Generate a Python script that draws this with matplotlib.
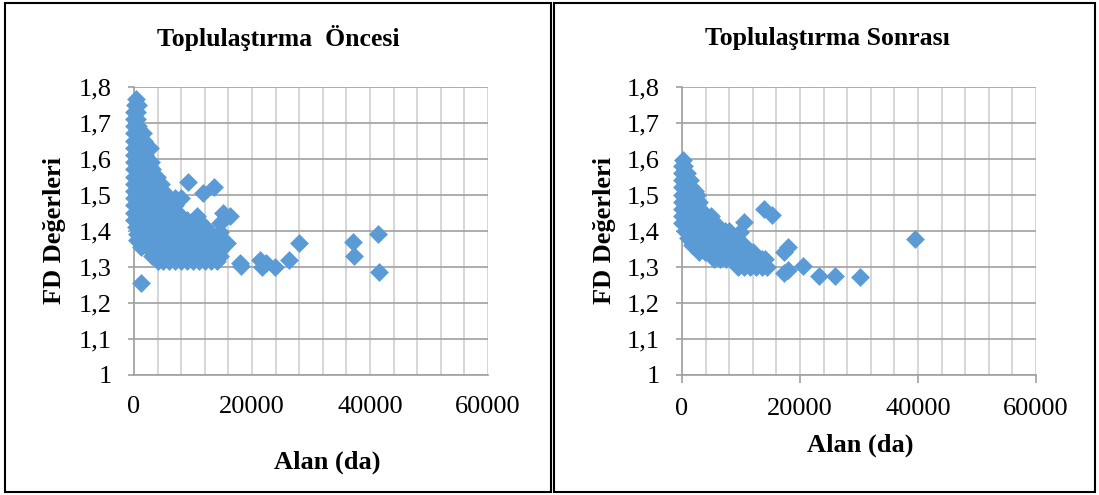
import numpy as np
import matplotlib
matplotlib.use('Agg')
import matplotlib.pyplot as plt
from matplotlib.patches import Rectangle
from matplotlib.ticker import MultipleLocator, FixedLocator

plt.rcParams['font.family'] = ['Liberation Serif', 'DejaVu Serif']

# Toplulaştırma öncesi: alan (da) and FD values
alan_once = [
    300, 100, 600, 0, 500, 0, 550, 0, 600,
    0, 800, 1600, 0, 900, 1700,
    0, 1000, 2000, 2700, 0, 900, 1800,
    0, 1000, 2000, 2900, 0, 1000, 2000, 3000,
    0, 1000, 2000, 3000, 3900,
    0, 1000, 2000, 3000, 4000, 4600,
    0, 1000, 2000, 3000, 4000, 5000,
    9100, 13600, 11750,
    0, 1000, 2000, 3000, 4000, 5000, 6000, 7000, 8000,
    0, 1000, 2000, 3000, 4000, 5000, 6000, 7000,
    0, 1000, 2000, 3000, 4000, 5000, 6000, 7000, 7500,
    10700, 11200, 15100, 16200, 14600,
    0, 1000, 2000, 3000, 4000, 5000, 6000, 7000, 8000, 9000,
    300, 1000, 2000, 3000, 4000, 5000, 6000, 7000, 8000, 9000, 10000, 11000, 12000,
    500, 1500, 2500, 3500, 4500, 5500, 6500, 7500, 8500, 9500, 10500, 11500, 12500, 13000, 14500,
    700, 1700, 2700, 3700, 4700, 5700, 6700, 7700, 8700, 9700, 10700, 11700, 12700, 13700, 15000, 15800,
    1200, 500,
    2500, 3500, 4500, 5500, 6500, 7500, 8500, 9500, 10500, 11500, 12500, 13500, 14600,
    3000, 4000, 5000, 6000, 7000, 8000, 9000, 10000, 11000, 12000, 13000, 14500,
    4000, 5000, 6000, 7000, 8000, 9000, 10000, 11000, 12000, 13000, 14000,
    1150, 17900, 18100, 21300, 22400, 21700, 23900, 26200, 28050,
    37200, 37350, 41300, 41600,
]
fd_once = [
    1.765, 1.75, 1.75, 1.73, 1.73, 1.71, 1.71, 1.69, 1.69,
    1.67, 1.67, 1.67, 1.65, 1.65, 1.65,
    1.63, 1.63, 1.63, 1.63, 1.61, 1.61, 1.61,
    1.59, 1.59, 1.59, 1.59, 1.57, 1.57, 1.57, 1.57,
    1.55, 1.55, 1.55, 1.55, 1.55,
    1.53, 1.53, 1.53, 1.53, 1.53, 1.53,
    1.51, 1.51, 1.51, 1.51, 1.51, 1.51,
    1.536, 1.522, 1.504,
    1.49, 1.49, 1.49, 1.49, 1.49, 1.49, 1.49, 1.49, 1.49,
    1.47, 1.47, 1.47, 1.47, 1.47, 1.47, 1.47, 1.47,
    1.45, 1.45, 1.45, 1.45, 1.45, 1.45, 1.45, 1.45, 1.45,
    1.44, 1.425, 1.448, 1.44, 1.42,
    1.43, 1.43, 1.43, 1.43, 1.43, 1.43, 1.43, 1.43, 1.43, 1.43,
    1.41, 1.41, 1.41, 1.41, 1.41, 1.41, 1.41, 1.41, 1.41, 1.41, 1.41, 1.41, 1.41,
    1.39, 1.39, 1.39, 1.39, 1.39, 1.39, 1.39, 1.39, 1.39, 1.39, 1.39, 1.39, 1.39, 1.39, 1.395,
    1.37, 1.37, 1.37, 1.37, 1.37, 1.37, 1.37, 1.37, 1.37, 1.37, 1.37, 1.37, 1.37, 1.37, 1.37, 1.365,
    1.355, 1.375,
    1.35, 1.35, 1.35, 1.35, 1.35, 1.35, 1.35, 1.35, 1.35, 1.35, 1.35, 1.35, 1.346,
    1.33, 1.33, 1.33, 1.33, 1.33, 1.33, 1.33, 1.33, 1.33, 1.33, 1.33, 1.33,
    1.315, 1.315, 1.315, 1.315, 1.315, 1.315, 1.315, 1.315, 1.315, 1.315, 1.315,
    1.256, 1.309, 1.302, 1.318, 1.311, 1.300, 1.300, 1.319, 1.366,
    1.368, 1.330, 1.391, 1.285,
]

# Toplulaştırma sonrası
alan_sonra = [
    150, 0, 400, 0, 500, 900, 0, 700, 1400, 0, 800, 1500, 2200,
    0, 900, 1800, 2600, 0, 1000, 2000, 2900, 0, 1000, 2000, 3000,
    0, 1000, 2000, 3000, 4000, 4900,
    0, 1000, 2000, 3000, 4000, 5000, 5600,
    600, 1300, 2300, 3300, 4300, 5300, 6300, 7300, 8000,
    1100, 2000, 3000, 4000, 5000, 6000, 7000, 8000, 9000,
    1700, 2700, 3700, 4700, 5700, 6700, 7700, 8700, 9700, 10500,
    2900, 3900, 4900, 5900, 6900, 7900, 8900, 9900, 10900, 12000,
    5500, 6500, 7500, 8500, 9500, 10500, 11500, 12500, 13500, 14000,
    9500, 10500, 11500, 12500, 13500, 14500,
    10500, 9900, 13900, 15300,
    17300, 18000, 17300, 18000, 20600, 23300, 25900, 30200, 39500,
]
fd_sonra = [
    1.597, 1.58, 1.58, 1.56, 1.56, 1.56, 1.54, 1.54, 1.54, 1.52, 1.52, 1.52, 1.51,
    1.50, 1.50, 1.50, 1.50, 1.48, 1.48, 1.48, 1.48, 1.46, 1.46, 1.46, 1.46,
    1.44, 1.44, 1.44, 1.44, 1.44, 1.44,
    1.42, 1.42, 1.42, 1.42, 1.42, 1.42, 1.42,
    1.40, 1.40, 1.40, 1.40, 1.40, 1.40, 1.40, 1.40, 1.40,
    1.38, 1.38, 1.38, 1.38, 1.38, 1.38, 1.38, 1.38, 1.38,
    1.36, 1.36, 1.36, 1.36, 1.36, 1.36, 1.36, 1.36, 1.36, 1.36,
    1.34, 1.34, 1.34, 1.34, 1.34, 1.34, 1.34, 1.34, 1.34, 1.34,
    1.32, 1.32, 1.32, 1.32, 1.32, 1.32, 1.32, 1.32, 1.32, 1.32,
    1.30, 1.30, 1.30, 1.30, 1.30, 1.30,
    1.425, 1.395, 1.46, 1.444,
    1.34, 1.355, 1.283, 1.292, 1.303, 1.273, 1.273, 1.272, 1.376,
]

titles = ['Toplulaştırma  Öncesi', 'Toplulaştırma Sonrası']
y_ticks = [1.0, 1.1, 1.2, 1.3, 1.4, 1.5, 1.6, 1.7, 1.8]
x_ticks = [0, 20000, 40000, 60000]

blue = '#5B9BD5'
grid_h = '#A0A0A0'
grid_v = '#D0D0D0'

fig = plt.figure(figsize=(10.99, 4.95), dpi=100)

# panel frames
fig.patches.append(Rectangle((0.005, 0.006), 0.496, 0.988, transform=fig.transFigure,
                             fill=False, edgecolor='black', linewidth=1.5))
fig.patches.append(Rectangle((0.504, 0.006), 0.492, 0.988, transform=fig.transFigure,
                             fill=False, edgecolor='black', linewidth=1.5))

panels = [
    dict(x=alan_once, y=fd_once, left=0.1219, title_x=0.2535, ylab_x=0.050,
         xlab=(0.2975, 0.067), xtick_len=0),
    dict(x=alan_sonra, y=fd_sonra, left=0.6205, title_x=0.7530, ylab_x=0.5496,
         xlab=(0.7825, 0.101), xtick_len=6),
]

for p, title in zip(panels, titles):
    ax = fig.add_axes([p['left'], 0.243, 0.3221, 0.582])
    ax.scatter(p['x'], p['y'], marker='D', s=92, color=blue, linewidths=0, zorder=3,
               clip_on=False)
    ax.set_xlim(0, 60000)
    ax.set_ylim(1.0, 1.8)

    ax.xaxis.set_major_locator(FixedLocator(x_ticks))
    ax.xaxis.set_minor_locator(MultipleLocator(4000))
    ax.yaxis.set_major_locator(FixedLocator(y_ticks))
    ax.set_xticklabels([str(v) for v in x_ticks])
    ax.set_yticklabels(['1' if v == 1.0 else f'{v:.1f}'.replace('.', ',') for v in y_ticks])

    ax.grid(True, which='minor', axis='x', color=grid_v, linewidth=1.2, zorder=0)
    ax.grid(True, which='major', axis='x', color=grid_v, linewidth=1.2, zorder=0)
    ax.grid(True, which='major', axis='y', color=grid_h, linewidth=1.2, zorder=0)
    ax.set_axisbelow(True)

    for side in ['top', 'right']:
        ax.spines[side].set_visible(False)
    for side in ['left', 'bottom']:
        ax.spines[side].set_color(grid_h)
        ax.spines[side].set_linewidth(1.2)

    ax.tick_params(axis='both', which='major', direction='out', width=1.2,
                   color=grid_h, labelsize=19)
    ax.tick_params(axis='y', length=4, pad=12)
    ax.tick_params(axis='x', length=p['xtick_len'], pad=15 - p['xtick_len'] * 0.72)
    ax.tick_params(axis='x', which='minor', length=0)

    fig.text(p['title_x'], 0.923, title, ha='center', va='center', fontsize=18.5,
             fontweight='bold')
    fig.text(p['ylab_x'], 0.535, 'FD Değerleri', ha='center', va='center', fontsize=19,
             fontweight='bold', rotation=90)
    fig.text(p['xlab'][0], p['xlab'][1], 'Alan (da)', ha='center', va='center',
             fontsize=19, fontweight='bold')

plt.savefig('out.png', dpi=100)
